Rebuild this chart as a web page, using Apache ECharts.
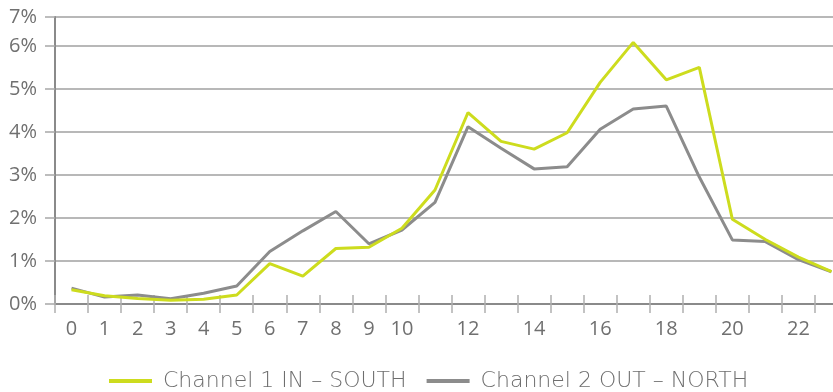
<!DOCTYPE html>
<html>
<head>
<meta charset="utf-8">
<script src="https://cdn.jsdelivr.net/npm/echarts@6/dist/echarts.min.js"></script>
<style>
html,body{margin:0;padding:0;background:#fff;overflow:hidden;width:833px;height:392px;}
#chart{width:850px;height:392px;}
</style>
</head>
<body>
<div id="chart"></div>
<script>
const hours = ['0','1','2','3','4','5','6','7','8','9','10','11','12','13','14','15','16','17','18','19','20','21','22','23'];
const channel1Name = 'Channel 1 IN – SOUTH';
const channel2Name = 'Channel 2 OUT – NORTH';
const channel1South = [0.33, 0.19, 0.13, 0.09, 0.11, 0.21, 0.94, 0.65, 1.29, 1.32, 1.76, 2.65, 4.45, 3.78, 3.60, 3.98, 5.15, 6.08, 5.21, 5.50, 1.97, 1.50, 1.09, 0.75];
const channel2North = [0.37, 0.16, 0.21, 0.12, 0.25, 0.42, 1.22, 1.70, 2.15, 1.40, 1.72, 2.36, 4.12, 3.62, 3.14, 3.19, 4.06, 4.53, 4.60, 2.95, 1.49, 1.45, 1.03, 0.75];
const yMin = 0, yMax = 6.67, yStep = 1;

const FONT = '"Open Sans", sans-serif';
const TXT = '#707070';
const GREEN = '#cddc1e', GREY = '#8c8c8c';
const chart = echarts.init(document.getElementById('chart'), null, {renderer: 'canvas'});
const showLabel = (i) => i <= 10 || i % 2 === 0;
chart.setOption({
  animation: false,
  backgroundColor: '#ffffff',
  grid: {left: 55, top: 17, right: 2, height: 287, containLabel: false},
  legend: {
    left: 104, top: 365,
    data: [
      {name: channel1Name, icon: 'rect', itemStyle: {color: GREEN}},
      {name: channel2Name, icon: 'rect', itemStyle: {color: GREY}}
    ],
    itemWidth: 43, itemHeight: 4, itemGap: 20,
    textStyle: {fontFamily: '"DejaVu Sans", sans-serif', fontWeight: 200, fontSize: 22, color: '#6e6e6e', padding: [0, 0, 0, 6]}
  },
  xAxis: [{
    type: 'category', data: hours, boundaryGap: true,
    axisLine: {lineStyle: {color: '#8a8a8a', width: 2}},
    axisTick: {show: true, length: 9, interval: 0, lineStyle: {color: '#b0b0b0', width: 1.5}},
    axisLabel: {interval: showLabel, margin: 15, fontFamily: FONT, fontSize: 20, color: TXT},
    splitLine: {show: false}
  }, {
    type: 'category', data: hours, boundaryGap: true, position: 'bottom',
    axisLine: {show: false},
    axisTick: {show: true, inside: true, length: 9, interval: 0, lineStyle: {color: '#b0b0b0', width: 1.5}},
    axisLabel: {show: false}, splitLine: {show: false}
  }],
  yAxis: {
    type: 'value', min: yMin, max: yMax, interval: yStep,
    axisLine: {show: true, lineStyle: {color: '#8a8a8a', width: 2}},
    axisTick: {show: true, length: 10, lineStyle: {color: '#a8a8a8', width: 1.5}},
    axisLabel: {margin: 18, fontFamily: FONT, fontSize: 20, color: TXT,
      formatter: (v) => Math.round(v) + '%'},
    splitLine: {lineStyle: {color: '#a0a0a0', width: 1.5}}
  },
  series: [{
    name: channel2Name, type: 'line', data: channel2North, symbol: 'none',
    lineStyle: {color: GREY, width: 3}, itemStyle: {color: GREY}
  }, {
    name: channel1Name, type: 'line', data: channel1South, symbol: 'none',
    lineStyle: {color: GREEN, width: 3}, itemStyle: {color: GREEN}
  }]
});
</script>
</body>
</html>
